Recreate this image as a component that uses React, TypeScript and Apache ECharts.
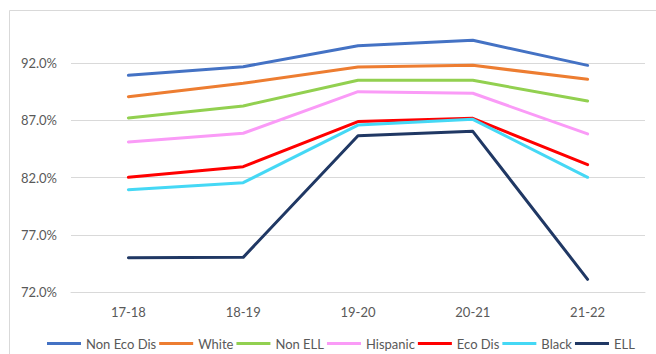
import React, { useEffect, useRef } from "react";
import * as echarts from "echarts";

// School years along the x-axis
const years = ["17-18", "18-19", "19-20", "20-21", "21-22"];

// Rates (%) per student group
const nonEcoDis = [90.95, 91.7, 93.54, 94.01, 91.82];
const white = [89.08, 90.25, 91.68, 91.82, 90.6];
const nonEll = [87.22, 88.27, 90.51, 90.51, 88.7];
const hispanic = [85.12, 85.88, 89.52, 89.38, 85.82];
const ecoDis = [82.03, 82.96, 86.9, 87.19, 83.13];
const black = [80.95, 81.56, 86.6, 87.1, 82.03];
const ell = [75.0, 75.03, 85.67, 86.05, 73.11];

const groups = [
  { name: "Non Eco Dis", data: nonEcoDis, color: "#4472C4" },
  { name: "White", data: white, color: "#ED7D31" },
  { name: "Non ELL", data: nonEll, color: "#92D050" },
  { name: "Hispanic", data: hispanic, color: "#FA9BF7" },
  { name: "Eco Dis", data: ecoDis, color: "#FF0000" },
  { name: "Black", data: black, color: "#45D8F5" },
  { name: "ELL", data: ell, color: "#203864" },
];

const FONT = "Lato, 'Noto Sans', sans-serif";
const TEXT = "#595959";
const GRID = "#D9D9D9";

export default function App() {
  const ref = useRef<HTMLDivElement>(null);

  useEffect(() => {
    if (!ref.current) return;
    const chart = echarts.init(ref.current, undefined, { renderer: "svg" });
    chart.setOption({
      animation: false,
      backgroundColor: "#FFFFFF",
      textStyle: { fontFamily: FONT },
      grid: { left: 71, right: 11, top: 10, bottom: 62 },
      xAxis: {
        type: "category",
        data: years,
        boundaryGap: true,
        axisLine: { show: true, lineStyle: { color: GRID, width: 1 } },
        axisTick: { show: false },
        axisLabel: { color: TEXT, fontSize: 13, fontFamily: FONT, margin: 13 },
      },
      yAxis: {
        type: "value",
        min: 72,
        max: 96.66,
        interval: 5,
        axisLine: { show: false },
        axisTick: { show: false },
        splitLine: { show: true, lineStyle: { color: GRID, width: 1 } },
        axisLabel: {
          color: TEXT,
          fontSize: 13,
          fontFamily: FONT,
          margin: 14,
          formatter: (v: number) =>
            Math.abs((v - 72) % 5) < 1e-6 ? v.toFixed(1) + "%" : "",
        },
      },
      legend: {
        left: 47,
        top: 336,
        padding: 0,
        icon: "rect",
        itemWidth: 34,
        itemHeight: 3,
        itemGap: 3,
        textStyle: { color: TEXT, fontSize: 13, lineHeight: 15, fontFamily: FONT },
        data: groups.map((g) => g.name),
      },
      graphic: [
        {
          type: "polyline",
          silent: true,
          shape: { points: [[9.5, 354], [9.5, 10.5], [656, 10.5]] },
          style: { stroke: GRID, lineWidth: 1, fill: "none" },
        },
      ],
      series: groups.map((g) => ({
        name: g.name,
        type: "line",
        data: g.data,
        symbol: "none",
        smooth: false,
        color: g.color,
        lineStyle: { color: g.color, width: 3, cap: "round", join: "round" },
      })),
    });
    return () => chart.dispose();
  }, []);

  return (
    <div
      ref={ref}
      style={{ position: "fixed", left: 0, top: 0, width: 656, height: 354, background: "#fff" }}
    />
  );
}
